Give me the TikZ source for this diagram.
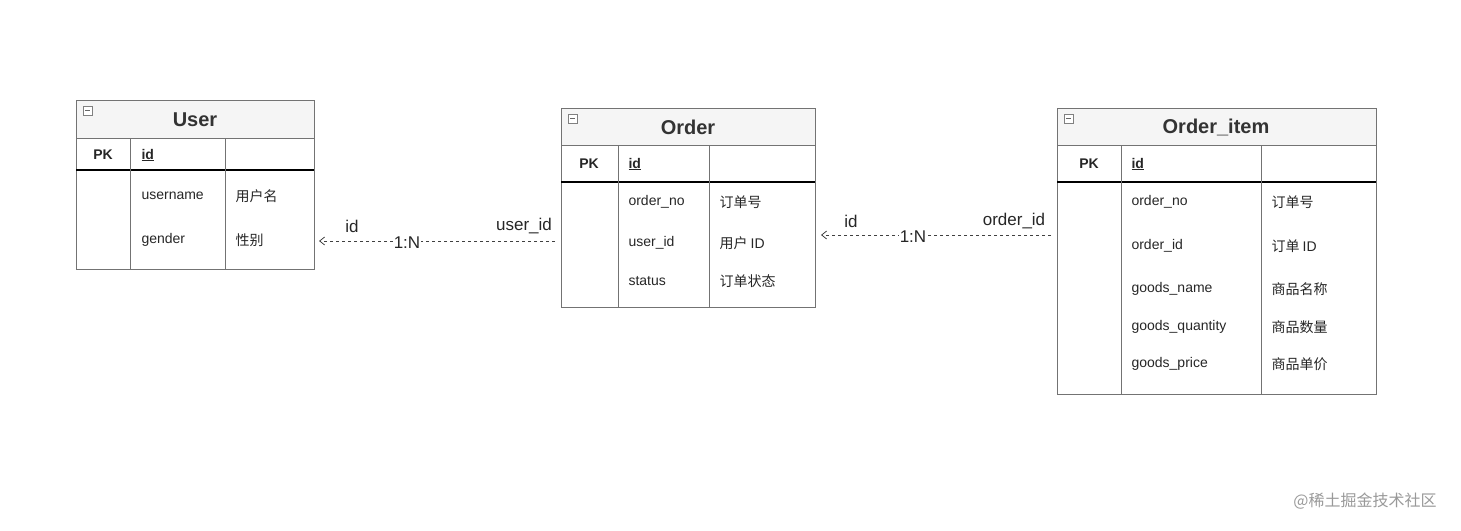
\documentclass[tikz,border=0pt]{standalone}
\usepackage{fontspec}
\setmainfont{Liberation Sans}
\newfontfamily\cjk{Noto Sans CJK SC}
\usetikzlibrary{arrows.meta}
\begin{document}
\begin{tikzpicture}[x=1pt,y=-1pt,
  ttl/.style={font=\fontsize{20}{24}\selectfont\bfseries,text=black!80},
  cell/.style={font=\fontsize{14}{16}\selectfont,text=black!85,anchor=west},
  pk/.style={font=\fontsize{14}{16}\selectfont\bfseries,text=black!85},
  lbl/.style={font=\fontsize{17}{20}\selectfont,text=black!85},
  rel/.style={draw=black!75,dashed,line width=0.8pt,-{Straight Barb[length=5pt,width=8pt]}},
  tbl/.style={draw=black!55,line width=0.8pt}]
\useasboundingbox (0,0) rectangle (1461,530);
% table macro
\newcommand\ertable[9]{% x1,x2,x3,x4, y1,y2,y3,y4, name
  \fill[black!4] (#1,#5) rectangle (#4,#6);
  \draw[tbl] (#1,#5) rectangle (#4,#8);
  \draw[tbl] (#1,#6) -- (#4,#6);
  \draw[black,line width=1.1pt] (#1,#7) -- (#4,#7);
  \draw[tbl] (#2,#6) -- (#2,#8);
  \draw[tbl] (#3,#6) -- (#3,#8);
  \draw[black!50,fill=white,line width=0.6pt] (#1+7,#5+6) rectangle (#1+16,#5+15);
  \draw[black!60,line width=0.8pt] (#1+9,#5+10.5) -- (#1+14,#5+10.5);
}
% User
\ertable{76}{130}{225}{314}{100}{138}{170}{269}{}
\node[ttl] (tU) at (195,120) {User};
\node[pk] (pkU) at (103,155) {PK};
\node[pk,anchor=west] (idU) at (138,155) {\underline{id}};
\node[cell] (u1) at (138,196) {username};
\node[cell] (u1c) at (232,196) {\cjk 用户名};
\node[cell] (u2) at (138,240) {gender};
\node[cell] (u2c) at (232,240) {\cjk 性别};
% Order
\ertable{561}{618}{709}{815}{108}{145}{182}{307}{}
\node[ttl] (tO) at (688,127) {Order};
\node[pk] (pkO) at (589,164) {PK};
\node[pk,anchor=west] (idO) at (625,164) {\underline{id}};
\node[cell] (o1) at (625,202) {order\_no};
\node[cell] (o1c) at (716,202) {\cjk 订单号};
\node[cell] (o2) at (625,243) {user\_id};
\node[cell] (o2c) at (716,243) {\cjk 用户 \rmfamily ID};
\node[cell] (o3) at (625,281) {status};
\node[cell] (o3c) at (716,281) {\cjk 订单状态};
% Order_item
\ertable{1057}{1121}{1261}{1376}{108}{145}{182}{394}{}
\node[ttl] (tI) at (1216,127) {Order\_item};
\node[pk] (pkI) at (1089,164) {PK};
\node[pk,anchor=west] (idI) at (1128,164) {\underline{id}};
\node[cell] (i1) at (1128,202) {order\_no};
\node[cell] (i1c) at (1268,202) {\cjk 订单号};
\node[cell] (i2) at (1128,246) {order\_id};
\node[cell] (i2c) at (1268,246) {\cjk 订单 \rmfamily ID};
\node[cell] (i3) at (1128,289) {goods\_name};
\node[cell] (i3c) at (1268,289) {\cjk 商品名称};
\node[cell] (i4) at (1128,327) {goods\_quantity};
\node[cell] (i4c) at (1268,327) {\cjk 商品数量};
\node[cell] (i5) at (1128,364) {goods\_price};
\node[cell] (i5c) at (1268,364) {\cjk 商品单价};
% connectors
\coordinate (a1) at (555,241); \coordinate (b1) at (319,241);
\coordinate (a2) at (1051,235); \coordinate (b2) at (821,235);
\draw[rel] (a1) -- (b1);
\draw[rel] (a2) -- (b2);
\node[lbl] (l1) at (352,226) {id};
\node[lbl,fill=white,inner sep=1pt] (l2) at (407,243) {1:N};
\node[lbl] (l3) at (524,226) {user\_id};
\node[lbl] (l4) at (851,221) {id};
\node[lbl,fill=white,inner sep=1pt] (l5) at (913,237) {1:N};
\node[lbl] (l6) at (1014,221) {order\_id};
\node[font=\fontsize{16}{18}\selectfont\cjk,text=black!40] (wm) at (1365,501) {@稀土掘金技术社区};
\end{tikzpicture}
\end{document}
